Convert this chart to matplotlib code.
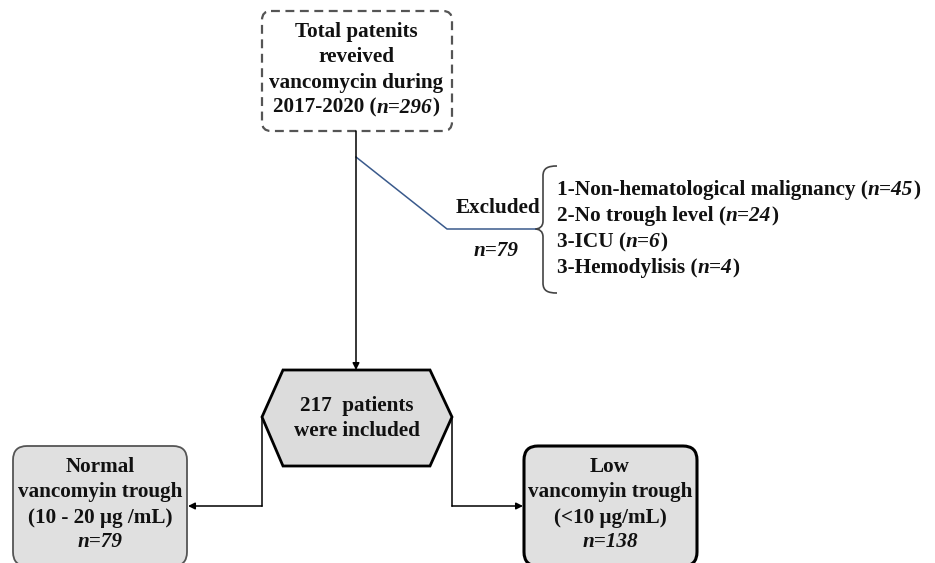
import matplotlib
matplotlib.use("Agg")
import matplotlib.pyplot as plt
from matplotlib.patches import FancyBboxPatch, Polygon, PathPatch
from matplotlib.path import Path

# ---- content ----
top_lines = [[("Total patenits", "b")], [("reveived", "b")], [("vancomycin during", "b")],
             [("2017-2020 (", "b"), ("n=296", "bi"), (")", "b")]]
excluded_label = "Excluded"
excluded_n = "n=79"
excl_reasons = ["1-Non-hematological malignancy", "2-No trough level", "3-ICU", "3-Hemodylisis"]
excl_counts = ["n=45", "n=24", "n=6", "n=4"]
included_lines = ["217  patients", "were included"]
normal_lines = ["Normal", "vancomyin trough", "(10 - 20 \u00b5g /mL)"]
normal_n = "n=79"
low_lines = ["Low", "vancomyin trough", "(<10 \u00b5g/mL)"]
low_n = "n=138"

W, H = 935, 563
fig = plt.figure(figsize=(W / 100, H / 100), dpi=100)
ax = fig.add_axes([0, 0, 1, 1])
ax.set_xlim(0, W)
ax.set_ylim(H, 0)
ax.axis("off")
renderer = fig.canvas.get_renderer()

FONT = "Liberation Serif"
FS = 15.2
FS_LIST = 15.3


def style_kw(st, fs):
    return dict(family=FONT, fontsize=fs, fontweight="bold",
                fontstyle="italic" if "i" in st else "normal")


def measure(s, st, fs):
    t1 = ax.text(0, 0, "x" + s + "x", **style_kw(st, fs))
    t2 = ax.text(0, 0, "xx", **style_kw(st, fs))
    w = t1.get_window_extent(renderer).width - t2.get_window_extent(renderer).width
    t1.remove(); t2.remove()
    return w


def rich(x, y, parts, ha="center", fs=FS):
    widths = [measure(s, st, fs) for s, st in parts]
    total = sum(widths)
    cx = x - total / 2 if ha == "center" else x
    for (s, st), w in zip(parts, widths):
        ax.text(cx, y, s, ha="left", va="center", color="#111111", **style_kw(st, fs))
        cx += w


arrow_kw = dict(arrowstyle="-|>", color="black", lw=1.1, mutation_scale=10, shrinkA=0, shrinkB=0)

# ---- top dashed box ----
ax.add_patch(FancyBboxPatch((262, 11), 190, 120, boxstyle="round,pad=0,rounding_size=9",
                            fc="white", ec="#555555", lw=1.6, ls=(0, (4, 2.5))))
for i, parts in enumerate(top_lines):
    rich(356, 32 + i * 25.3, parts)

# main vertical arrow
ax.annotate("", xy=(356, 370), xytext=(356, 131), arrowprops=arrow_kw)

# blue exclusion line
ax.plot([356, 447, 535], [157, 229, 229], color="#3a5a8c", lw=1.1)

# brace
bx, tip = 543, 535
top, mid, bot = 166, 229, 293
verts = [(557, top), (548, top), (bx, top + 2), (bx, top + 10),
         (bx, mid - 8),
         (bx, mid - 2), (539, mid), (tip, mid),
         (539, mid), (bx, mid + 2), (bx, mid + 8),
         (bx, bot - 10),
         (bx, bot - 2), (548, bot), (557, bot)]
codes = [Path.MOVETO, Path.CURVE4, Path.CURVE4, Path.CURVE4,
         Path.LINETO,
         Path.CURVE4, Path.CURVE4, Path.CURVE4,
         Path.CURVE4, Path.CURVE4, Path.CURVE4,
         Path.LINETO,
         Path.CURVE4, Path.CURVE4, Path.CURVE4]
ax.add_patch(PathPatch(Path(verts, codes), fc="none", ec="#444444", lw=1.2))

rich(498, 208, [(excluded_label, "b")])
rich(496, 251, [(excluded_n, "bi")])
ys = [190, 216, 242, 268]
for y, r, c in zip(ys, excl_reasons, excl_counts):
    rich(557, y, [(r + " (", "b"), (c, "bi"), (")", "b")], ha="left", fs=FS_LIST)

# ---- hexagon ----
hexagon = Polygon([(262, 417), (283, 370), (430, 370), (452, 417), (430, 466), (283, 466)],
                  closed=True, fc="#dcdcdc", ec="black", lw=2)
ax.add_patch(hexagon)
rich(357, 406, [(included_lines[0], "b")])
rich(357, 431, [(included_lines[1], "b")])

# branches
ax.plot([262, 262], [417, 506], color="black", lw=1.1)
ax.annotate("", xy=(188, 506), xytext=(262, 506), arrowprops=arrow_kw)
ax.plot([452, 452], [417, 506], color="black", lw=1.1)
ax.annotate("", xy=(523, 506), xytext=(452, 506), arrowprops=arrow_kw)

# ---- bottom boxes ----
ax.add_patch(FancyBboxPatch((13, 446), 174, 120, boxstyle="round,pad=0,rounding_size=14",
                            fc="#e0e0e0", ec="#555555", lw=1.3))
ax.add_patch(FancyBboxPatch((524, 446), 173, 120, boxstyle="round,pad=0,rounding_size=14",
                            fc="#e0e0e0", ec="black", lw=2.2))
for i, line in enumerate(normal_lines):
    rich(100, 467 + i * 25.5, [(line, "b")])
rich(100, 542, [(normal_n, "bi")])
for i, line in enumerate(low_lines):
    rich(610, 467 + i * 25.5, [(line, "b")])
rich(610, 542, [(low_n, "bi")])

fig.savefig("out.png", dpi=100)
